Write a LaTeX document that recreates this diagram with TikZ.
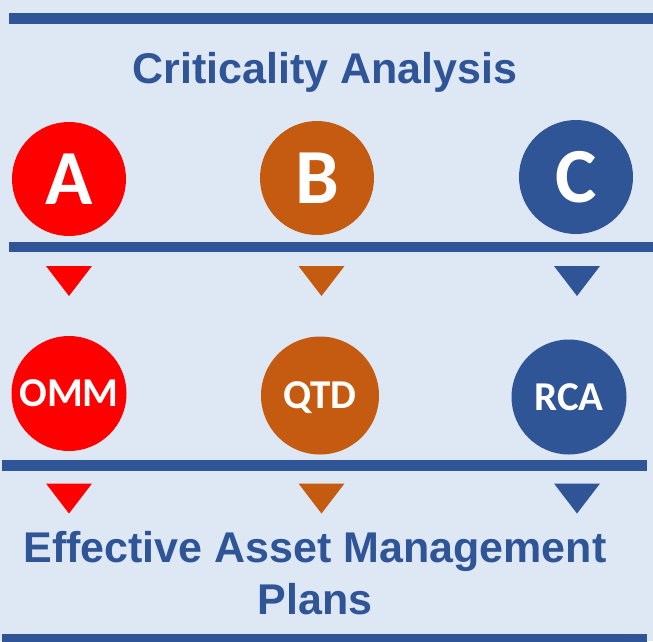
\documentclass[tikz,border=0pt]{standalone}
\usepackage{fontspec}
\setmainfont{Liberation Sans}
\newfontfamily\circfont{Carlito}

\definecolor{bgblue}{HTML}{DDE8F4}
\definecolor{lineblue}{HTML}{2F5597}
\definecolor{critred}{HTML}{FF0000}
\definecolor{critorange}{HTML}{C55A11}

\begin{document}
\begin{tikzpicture}[x=1pt, y=-1pt,
    bar/.style={color=lineblue, line width=10.5pt},
    bigdot/.style={circle, fill=#1, inner sep=0pt, minimum size=114pt, text=white,
        text depth=0pt, font=\circfont\bfseries\fontsize{78}{78}\selectfont},
    smalldot/.style={circle, fill=#1, inner sep=0pt, minimum size=115pt,
        text=white, text depth=0pt,
        font=\circfont\bfseries\fontsize{41}{41}\selectfont},
    heading/.style={text=lineblue, inner sep=0pt, align=center,
        font=\bfseries\fontsize{43}{52}\selectfont}]
    \def\W{653}
    \def\H{641}
    \def\tw{23}   % half width of the small triangles
    \def\th{30}   % their height

    \useasboundingbox (0,0) rectangle (\W,\H);
    \fill[bgblue] (0,0) rectangle (\W,\H);

    % horizontal bars
    \draw[bar] (9,18.5) -- (\W,18.5);
    \draw[bar] (9,247) -- (\W,247);
    \draw[bar] (2,465.5) -- (647,465.5);
    \draw[bar] (2,639) -- (647,639);

    \node[heading, anchor=base] (title) at (325,83) {Criticality Analysis};

    % criticality classes
    \node[bigdot=critred] (classA) at (69,179) {A};
    \node[bigdot=critorange] (classB) at (317,178) {B};
    \node[bigdot=lineblue] (classC) at (576,177) {C};

    % strategies
    \node[smalldot=critred] (omm) at (69,393.5) {OMM};
    \node[smalldot=critorange, minimum size=118pt] (qtd) at (320,395.5) {QTD};
    \node[smalldot=lineblue] (rca) at (569,397) {RCA};

    % small arrow heads
    \foreach \x/\c in {69/critred, 321.5/critorange, 577/lineblue}{
        \fill[\c] (\x-\tw,266) -- (\x+\tw,266) -- (\x,266+\th) -- cycle;
        \fill[\c] (\x-\tw,483.5) -- (\x+\tw,483.5) -- (\x,483.5+\th) -- cycle;
    }

    \node[heading, anchor=base] (plans) at (315,614) {Effective Asset Management\\Plans};

\end{tikzpicture}
\end{document}
